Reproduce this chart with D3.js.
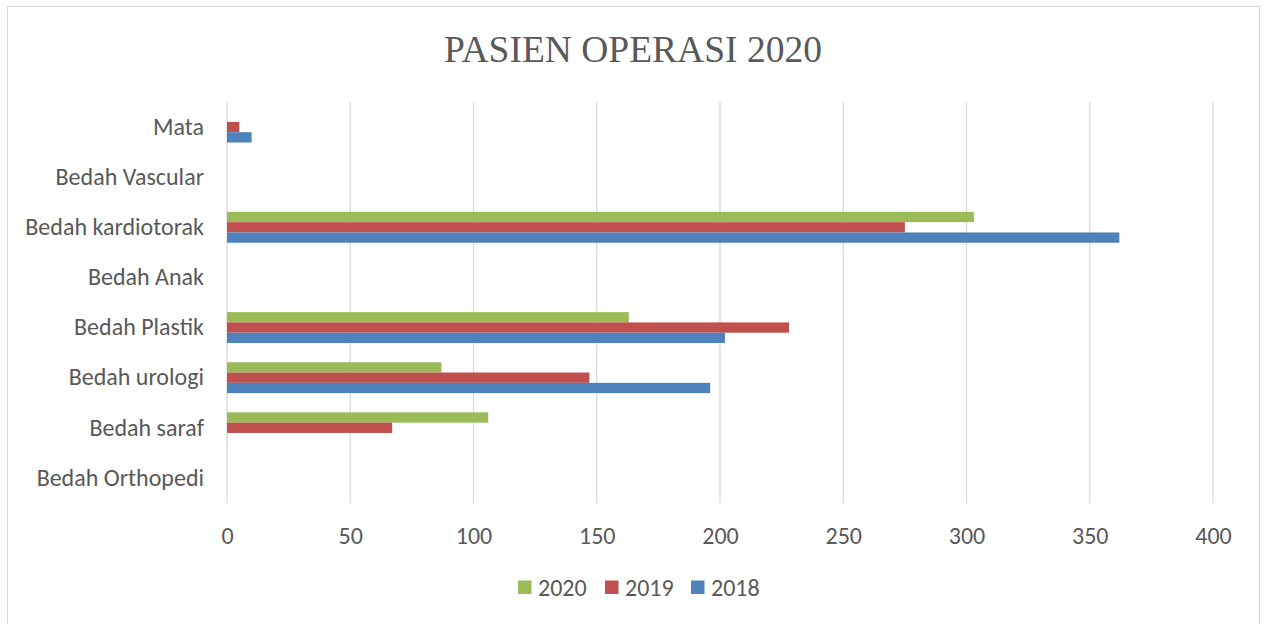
<!DOCTYPE html>
<html><head><meta charset="utf-8">
<script src="https://cdn.jsdelivr.net/npm/d3@7"></script>
<style>body{margin:0;background:#fff;} svg{display:block;}</style>
</head><body>
<svg id="c" width="1265" height="624"></svg>
<script>
const categories = ["Bedah Orthopedi","Bedah saraf","Bedah urologi","Bedah Plastik","Bedah Anak","Bedah kardiotorak","Bedah Vascular","Mata"];
const seriesNames = ["2020","2019","2018"];
const values2020 = [0,106,87,163,0,303,0,0];
const values2019 = [0,67,147,228,0,275,0,5];
const values2018 = [0,0,196,202,0,362,0,10];
const xTicks = [0,50,100,150,200,250,300,350,400];
const colors = {"2020":"#9bbb59","2019":"#c0504d","2018":"#4f81bd"};
const seriesValues = {"2020":values2020,"2019":values2019,"2018":values2018};

const svg = d3.select("#c");
const font = "Carlito, Calibri, Lato, sans-serif";
const textCol = "#595959";

// outer border
svg.append("rect").attr("x",7.5).attr("y",6.5).attr("width",1252).attr("height",640)
  .attr("fill","#fff").attr("stroke","#d9d9d9").attr("stroke-width",1);

const pLeft=227, pRight=1213, pTop=102, pBottom=503;
const x = d3.scaleLinear().domain([0,400]).range([pLeft,pRight]);
const y = d3.scaleBand().domain(categories.slice().reverse()).range([pTop,pBottom]).paddingInner(0).paddingOuter(0);

// gridlines
svg.append("g").selectAll("line").data(xTicks).join("line")
  .attr("x1",d=>x(d)).attr("x2",d=>x(d)).attr("y1",pTop).attr("y2",pBottom)
  .attr("stroke","#d9d9d9").attr("stroke-width",1.3);

// bars
const barH = 10.3;
const order = ["2020","2019","2018"];
const rows = [];
categories.forEach((c,i)=>{
  order.forEach((s,j)=>{
    rows.push({c, s, v: seriesValues[s][i], j});
  });
});
svg.append("g").selectAll("rect").data(rows.filter(d=>d.v>0)).join("rect")
  .attr("x",x(0)).attr("width",d=>x(d.v)-x(0))
  .attr("y",d=>y(d.c)+y.bandwidth()/2 - 1.5*barH + d.j*barH)
  .attr("height",barH)
  .attr("fill",d=>colors[d.s]);

// x axis tick labels
const xAxis = d3.axisBottom(x).tickValues(xTicks).tickSize(0).tickPadding(0);
const gx = svg.append("g").attr("transform",`translate(0,${pBottom+26})`).call(xAxis);
gx.select(".domain").remove();
gx.selectAll("text").attr("fill",textCol).style("font-family",font).style("font-size","24px").attr("dy","0.32em").attr("y",7);

// y axis labels
const yAxis = d3.axisLeft(y).tickSize(0).tickPadding(0);
const gy = svg.append("g").attr("transform",`translate(${pLeft-23},0)`).call(yAxis);
gy.select(".domain").remove();
gy.selectAll("text").attr("fill",textCol).style("font-family",font).style("font-size","24px");

// title
svg.append("text").attr("x",633).attr("y",62).attr("text-anchor","middle")
  .attr("fill",textCol).style("font-family","'Times New Roman','Liberation Serif',serif").style("font-size","37.5px")
  .text("PASIEN OPERASI 2020");

// legend
const legX = [518,605,691];
const lg = svg.append("g").selectAll("g").data(seriesNames).join("g")
  .attr("transform",(d,i)=>`translate(${legX[i]},580.5)`);
lg.append("rect").attr("width",13.5).attr("height",13.5).attr("fill",d=>colors[d]);
lg.append("text").attr("x",20).attr("y",6.75).attr("dy","0.35em").attr("fill",textCol)
  .style("font-family",font).style("font-size","24px").text(d=>d);
</script>
</body></html>
